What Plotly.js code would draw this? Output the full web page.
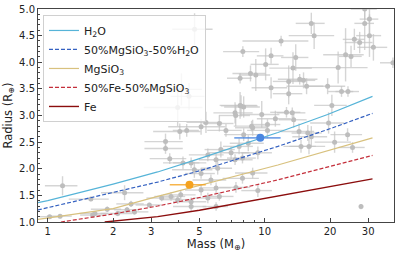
<!DOCTYPE html>
<html><head><meta charset="utf-8">
<script src="https://cdn.plot.ly/plotly-3.0.1.min.js"></script>
<style>html,body{margin:0;padding:0;background:#fff}#c{width:399px;height:256px}</style>
</head><body><div id="c"></div>
<script>
// Observed planets: mass (M_earth), radius (R_earth), mass error, radius error
const planetMass = [1.17,1.58,2.26,2.42,1.88,2.10,2.32,2.51,2.94,1.61,1.14,1.02,1.65,
  4.06,4.37,3.49,3.49,3.65,4.2,3.97,7.78,7.3,9.69,5.36,6.18,5.09,6.63,8.8,8.0,10.3,6.28,7.0,7.62,8.4,9.3,5.47,5.97,7.3,7.9,4.58,4.74,6.07,5.09,5.65,8.8,7.9,7.37,9.3,3.7,3.97,4.1,5.09,5.97,6.18,5.47,4.58,5.97,3.35,4.58,
  4.75,4.13,4.48,7.93,10.7,10.1,8.6,9.1,7.7,10.7,7.7,8.0,7.35,11.2,8.7,10.3,
  16.4,16.9,11.9,28.9,30.4,28.9,25.9,27.4,30.4,31.7,23.6,25.0,39,13.9,13.5,21.8,12.9,14.5,15.1,15.6,19.5,12.9,22.6,24.2,20.4,12.6,13.4,13.6,19.7,14.4,15.8,16.4,24.1,21.0,14.7,16.0,25.4,27.8];
const planetRadius = [1.68,1.43,1.55,1.34,1.24,1.16,1.23,1.19,1.32,1.13,1.11,1.10,1.16,
  2.70,2.72,2.51,2.38,2.19,2.11,3.15,3.18,3.05,3.02,2.87,2.85,2.79,2.72,2.77,2.64,2.72,2.36,2.30,2.42,2.48,2.30,2.26,2.17,2.17,2.20,2.11,1.98,2.01,1.91,1.79,1.92,1.82,1.65,1.59,1.48,1.42,1.51,1.60,1.64,1.48,1.45,1.29,1.29,1.45,1.38,
  4.62,3.49,3.36,4.20,4.12,3.96,3.79,3.76,3.70,3.52,3.19,3.16,3.00,2.94,2.80,2.83,
  4.73,4.50,4.40,5.00,4.81,4.73,4.43,4.37,4.50,4.28,4.14,4.11,3.99,4.09,3.89,3.90,3.64,3.68,3.66,3.55,3.55,3.41,3.45,3.45,3.19,3.06,3.05,2.92,2.86,2.70,2.67,2.60,2.64,2.50,2.42,2.42,2.40,1.29];
const massErr = [0.2,0.33,0.5,0.35,0.3,0.35,0.3,0.4,0.4,0.2,0.15,0.1,0.25,
  1.0,0.6,0.7,0.7,0.7,0.8,1.2,1.5,1.5,2.0,1.0,1.0,1.5,1.2,1.5,1.5,2.0,1.0,1.5,1.2,1.5,1.5,1.0,1.0,1.5,1.2,0.8,1.0,1.0,0.8,1.0,1.5,1.5,1.2,1.5,0.6,0.6,0.7,0.8,1.0,1.0,0.8,0.8,0.8,0.5,0.8,
  1.0,1.0,0.8,1.5,1.5,1.5,1.5,1.5,1.0,2.0,1.5,1.5,1.2,2.0,1.5,1.5,
  2.5,4.0,4.0,4.0,3.0,3.0,3.0,4.0,4.0,5.0,5.0,3.0,5.0,2.0,3.0,8.0,2.0,3.0,2.0,3.0,4.0,2.0,3.0,3.0,3.5,2.0,2.0,2.0,3.5,2.5,2.5,3.0,4.0,4.0,2.5,3.0,3.5,0.5];
const radiusErr = [0.18,0.04,0.14,0.06,0.05,0.05,0.05,0.05,0.04,0.04,0.04,0.03,0.04,
  0.15,0.12,0.15,0.1,0.1,0.12,0.35,0.2,0.2,0.25,0.2,0.15,0.15,0.12,0.15,0.12,0.15,0.15,0.12,0.15,0.15,0.12,0.12,0.12,0.1,0.1,0.1,0.15,0.12,0.1,0.1,0.1,0.1,0.1,0.12,0.08,0.08,0.08,0.1,0.1,0.08,0.1,0.1,0.08,0.06,0.08,
  0.3,0.3,0.25,0.1,0.15,0.3,0.15,0.3,0.1,0.2,0.25,0.2,0.2,0.15,0.1,0.1,
  0.2,0.25,0.1,0.2,0.3,0.5,0.2,0.2,0.4,0.25,0.5,0.2,0.1,0.25,0.3,0.3,0.3,0.1,0.15,0.15,0.15,0.2,0.1,0.1,0.2,0.1,0.1,0.15,0.2,0.15,0.15,0.2,0.12,0.2,0.12,0.15,0.1,0.05];

// Highlighted planets
const orangeMass = [4.5], orangeRadius = [1.70], orangeMassErr = [0.85], orangeRadiusErr = [0.03];
const blueMass = [9.54], blueRadius = [2.58], blueMassErr = [2.3], blueRadiusErr = [0.04];

// Composition models
const h2oMass = [0.9,1,2,3.21,5,11.5,19.5,31.4];
const h2oRadius = [1.365,1.40,1.71,1.94,2.19,2.68,3.02,3.36];
const rockWaterMass = [0.9,1.7,3.21,5,11.5,20.6,31.4];
const rockWaterRadius = [1.226,1.49,1.75,1.96,2.42,2.77,3.04];
const rockMass = [0.9,2,3.21,5,11.5,31.4];
const rockRadius = [1.05,1.25,1.48,1.69,2.07,2.58];
const ironRockMass = [1.15,2,3.21,5,11.5,31.4];
const ironRockRadius = [1.0,1.15,1.30,1.46,1.79,2.25];
const ironMass = [1.83,3.21,5,11.5,31.4];
const ironRadius = [1.0,1.10,1.22,1.49,1.81];

const xTicks = [1,2,3,5,10,20,30];
const xMinor = [4,6,7,8,9];
const yTicks = [1.0,1.5,2.0,2.5,3.0,3.5,4.0,4.5,5.0];

const font = 'DejaVu Sans, sans-serif';
const grey = '#bdbdbd';
const traces = [
  {x: planetMass, y: planetRadius, type:'scatter', mode:'markers', showlegend:false, hoverinfo:'skip',
   marker:{color:grey, size:5},
   error_x:{type:'data', array:massErr, color:'rgba(195,195,195,0.7)', thickness:1.4, width:0},
   error_y:{type:'data', array:radiusErr, color:'rgba(195,195,195,0.7)', thickness:1.4, width:0}},
  {x: h2oMass, y: h2oRadius, name:'H<sub>2</sub>O', mode:'lines', line:{color:'#56b4d8', width:1.2}},
  {x: rockWaterMass, y: rockWaterRadius, name:'50%MgSiO<sub>3</sub>-50%H<sub>2</sub>O', mode:'lines', line:{color:'#3461c1', width:1.2, dash:'4px,2px'}},
  {x: rockMass, y: rockRadius, name:'MgSiO<sub>3</sub>', mode:'lines', line:{color:'#d8c17e', width:1.2}},
  {x: ironRockMass, y: ironRockRadius, name:'50%Fe-50%MgSiO<sub>3</sub>', mode:'lines', line:{color:'#c42f3b', width:1.2, dash:'4px,2px'}},
  {x: ironMass, y: ironRadius, name:'Fe', mode:'lines', line:{color:'#8b0d0d', width:1.4}},
  {x: orangeMass, y: orangeRadius, mode:'markers', showlegend:false,
   marker:{color:'#f5a21e', size:8},
   error_x:{type:'data', array:orangeMassErr, color:'rgba(245,162,30,0.8)', thickness:1.6, width:0},
   error_y:{type:'data', array:orangeRadiusErr, color:'rgba(245,162,30,0.8)', thickness:1.6, width:0}},
  {x: blueMass, y: blueRadius, mode:'markers', showlegend:false,
   marker:{color:'#4a86e0', size:8},
   error_x:{type:'data', array:blueMassErr, color:'rgba(74,134,224,0.75)', thickness:1.6, width:0},
   error_y:{type:'data', array:blueRadiusErr, color:'rgba(74,134,224,0.75)', thickness:1.6, width:0}}
];
const axisCommon = {showgrid:false, zeroline:false, showline:true, linecolor:'#444', linewidth:1, mirror:true,
  ticks:'inside', ticklen:4, tickcolor:'#444', tickfont:{family:font, size:10, color:'#222'}};
const layout = {
  width:399, height:256, margin:{l:38, r:5, t:9, b:34},
  paper_bgcolor:'#fff', plot_bgcolor:'#fff',
  font:{family:font, color:'#222'},
  xaxis: Object.assign({}, axisCommon, {type:'log', range:[-0.045, 1.596],
    tickvals:xTicks, ticktext:xTicks.map(String),
    minor:{tickvals:xMinor, ticks:'inside', ticklen:2, tickcolor:'#444'},
    title:{text:'Mass (M<sub>⊕</sub>)', font:{family:font, size:11.5, color:'#222'}, standoff:3}}),
  yaxis: Object.assign({}, axisCommon, {range:[1,5], tickvals:yTicks, ticktext:yTicks.map(v=>v.toFixed(1)),
    minor:{dtick:0.1, ticks:'inside', ticklen:2, tickcolor:'#444'},
    title:{text:'Radius (R<sub>⊕</sub>)', font:{family:font, size:11.5, color:'#222'}, standoff:4}}),
  legend:{x:0.014, y:0.972, xanchor:'left', yanchor:'top', bgcolor:'rgba(255,255,255,0.8)',
    bordercolor:'#d0d0d0', borderwidth:1, font:{family:font, size:11, color:'#222'}, tracegroupgap:0},
  showlegend:true
};
Plotly.newPlot('c', traces, layout, {staticPlot:true});
</script></body></html>
